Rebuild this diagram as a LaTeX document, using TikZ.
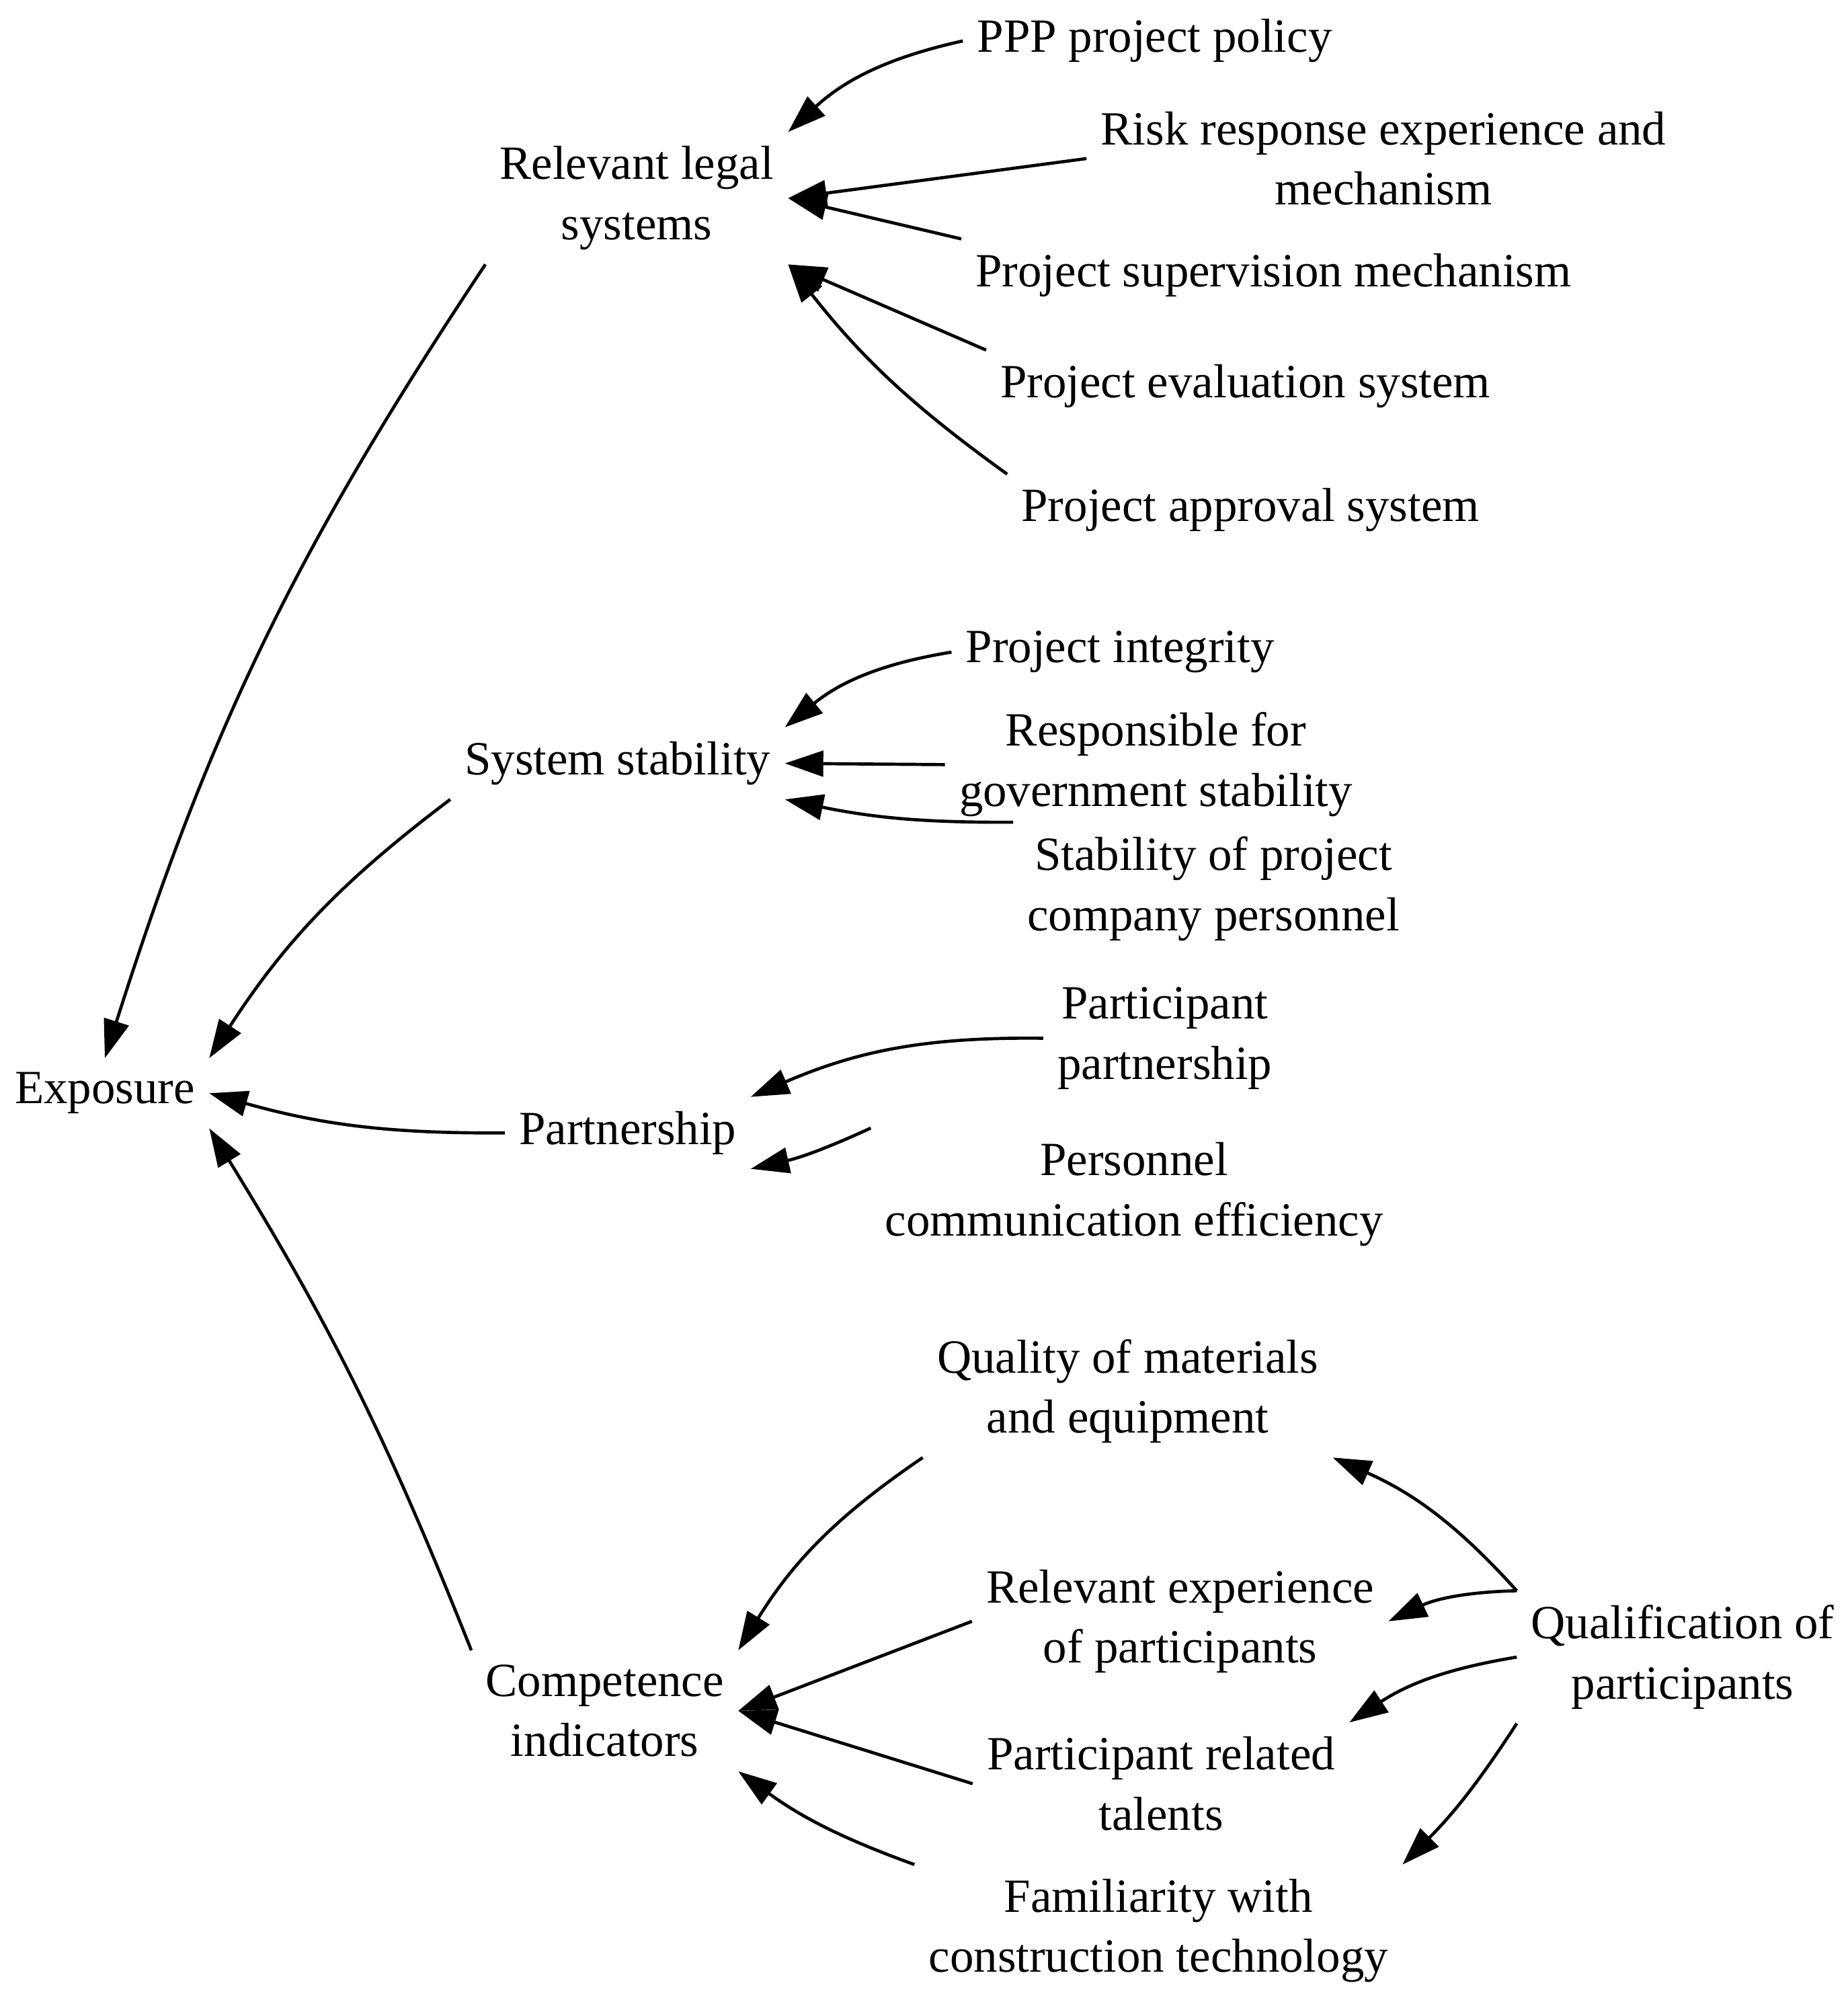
\documentclass[tikz,border=0pt]{standalone}
\usepackage{fontspec}
\setmainfont{Liberation Serif}
\usetikzlibrary{arrows.meta}
\begin{document}
\begin{tikzpicture}[x=0.01cm,y=-0.01cm,
  lab/.style={align=center,inner sep=3pt,font=\fontsize{10.6}{13.4}\selectfont},
  arr/.style={-{Triangle[length=0.3cm,width=0.2cm]},line width=0.7pt}]
\useasboundingbox (0,0) rectangle (1445,1572);
\node[lab] (ppp) at (903,32) {PPP project policy};
\node[lab] (leg) at (498,155) {Relevant legal\\systems};
\node[lab] (risk) at (1082,124) {Risk response experience and\\mechanism};
\node[lab] (sup) at (996,215) {Project supervision mechanism};
\node[lab] (eva) at (974,302) {Project evaluation system};
\node[lab] (app) at (978,399) {Project approval system};
\node[lab] (int) at (876,510) {Project integrity};
\node[lab] (sta) at (483,597) {System stability};
\node[lab] (gov) at (904,598) {Responsible for\\government stability};
\node[lab] (com) at (949,695) {Stability of project\\company personnel};
\node[lab] (ppart) at (911,812) {Participant\\partnership};
\node[lab] (exp) at (82,855) {Exposure};
\node[lab] (part) at (491,886) {Partnership};
\node[lab] (pce) at (887,934) {Personnel\\communication efficiency};
\node[lab] (qme) at (882,1088) {Quality of materials\\and equipment};
\node[lab] (rep) at (923,1268) {Relevant experience\\of participants};
\node[lab] (qop) at (1316,1296) {Qualification of\\participants};
\node[lab] (ci) at (473,1338) {Competence\\indicators};
\node[lab] (prt) at (908,1395) {Participant related\\talents};
\node[lab] (fct) at (906,1510) {Familiarity with\\construction technology};

\draw[arr] (ppp.west) to[bend right=15] (leg.north east);
\draw[arr] (risk.west) -- (leg.east);
\draw[arr] (sup.north west) -- (leg.east);
\draw[arr] (eva.north west) -- (leg.south east);
\draw[arr] (app.north west) to[bend left=8] (leg.south east);
\draw[arr] (leg.south west) to[bend right=8] (exp.north);
\draw[arr] (int.west) to[bend right=15] (sta.north east);
\draw[arr] (gov.west) -- (sta.east);
\draw[arr] (com.north west) to[bend left=6] (sta.south east);
\draw[arr] (sta.south west) to[bend right=10] (exp.north east);
\draw[arr] (ppart.west) to[bend right=12] (part.north east);
\draw[arr] (part.west) to[bend left=8] (exp.east);
\draw[arr] (pce.north west) to[bend left=6] (part.south east);
\draw[arr] (ci.north west) to[bend right=5] (exp.south east);
\draw[arr] (qme.south west) to[bend right=12] (ci.north east);
\draw[arr] (rep.west) -- (ci.east);
\draw[arr] (prt.west) -- (ci.east);
\draw[arr] (fct.north west) to[bend left=8] (ci.south east);
\draw[arr] (qop.north west) to[bend right=12] (qme.south east);
\draw[arr] (qop.north west) to[bend right=12] (rep.east);
\draw[arr] (qop.west) to[bend right=12] (prt.north east);
\draw[arr] (qop.south west) to[bend left=6] (fct.north east);
\end{tikzpicture}
\end{document}
